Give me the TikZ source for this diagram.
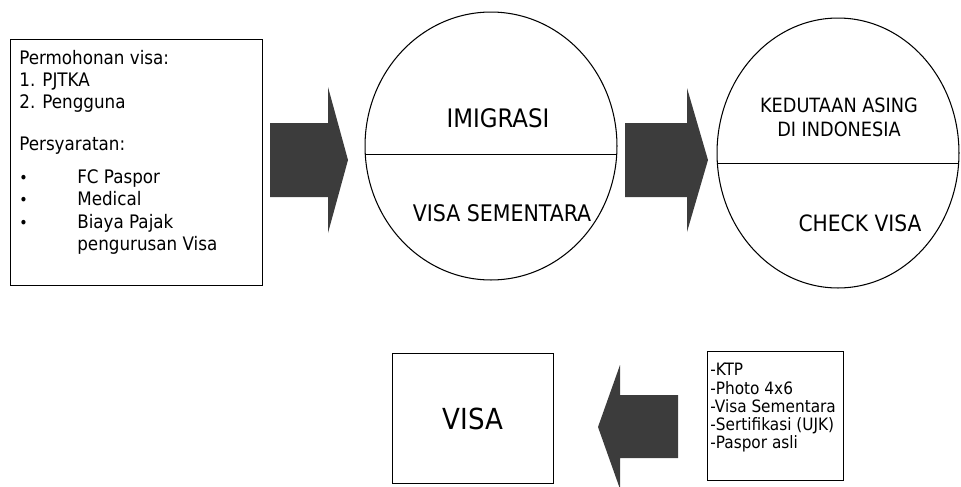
\documentclass[tikz,border=0pt]{standalone}
\usepackage{fontspec}
\setmainfont{DejaVu Sans Condensed}
\usepackage{tikz}
\usetikzlibrary{shapes.geometric, positioning}
\usepackage{xcolor}
\definecolor{arrowgray}{HTML}{3C3C3C}
\tikzstyle{infobox} = [%
  rectangle,
  draw=black,
  line width=0.6pt,
  inner sep=0pt,
  fill=none
]
\tikzstyle{oval} = [%
  ellipse,
  draw=black,
  line width=0.6pt,
  inner sep=0pt
]

\begin{document}
\begin{tikzpicture}[%
  x=0.02cm, y=-0.02cm,
  every node/.style={%
    font=\fontsize{10.6}{12.6}\selectfont,
    text=black
  },
  blockarrow/.style={fill=arrowgray, draw=none},
  caption/.style={font=\fontsize{13}{15}\selectfont, align=center}
]
  \useasboundingbox (0,0) rectangle (961,487);

  % Boxes
  \node[infobox, minimum width=5.04cm, minimum height=4.92cm, anchor=north west] (syaratbox) at (10,39) {};
  \node[anchor=north west, align=left, inner sep=0pt] (syarat) at (19,50) {%
    Permohonan visa:\\
    1. PJTKA\\
    2. Pengguna\\[11pt]
    Persyaratan:\\[6.5pt]
    \rlap{\small\textbullet}\hspace*{33pt}FC Paspor\\
    \rlap{\small\textbullet}\hspace*{33pt}Medical\\
    \rlap{\small\textbullet}\hspace*{33pt}Biaya Pajak\\
    \hspace*{33pt}pengurusan Visa};

  % Circles
  \node[oval, minimum width=5.04cm, minimum height=5.36cm] (imigrasi) at (491,146) {};
  \node[oval, minimum width=4.84cm, minimum height=5.40cm] (kedutaan) at (838,153) {};
  \draw[line width=0.6pt] (imigrasi.184.1) -- (imigrasi.-4.1);
  \draw[line width=0.6pt] (kedutaan.185.7) -- (kedutaan.-5.7);

  \node[caption, font=\fontsize{14.5}{17}\selectfont] (imig) at (498,118) {IMIGRASI};
  \node[caption] (sementara) at (502,213) {VISA SEMENTARA};
  \node[caption, font=\fontsize{11.2}{13.5}\selectfont] (asing) at (839,117) {KEDUTAAN ASING\\DI INDONESIA};
  \node[caption, font=\fontsize{12.8}{15}\selectfont] (check) at (860,223) {CHECK VISA};

  % Bottom row
  \node[infobox, minimum width=3.22cm, minimum height=2.60cm, anchor=north west] (visabox) at (392,353) {};
  \node[font=\fontsize{16.5}{20}\selectfont] (visa) at (visabox.center) {VISA};
  \node[infobox, minimum width=2.72cm, minimum height=2.58cm, anchor=north west] (dokumenbox) at (707,351) {};
  \node[anchor=north west, align=left, inner sep=0pt, font=\fontsize{9.7}{10.4}\selectfont] (dokumen) at (710,363) {%
    -KTP\\
    -Photo 4x6\\
    -Visa Sementara\\
    -Sertifikasi (UJK)\\
    -Paspor asli};

  % Block arrows
  \fill[blockarrow] (270,123) -- (328,123) -- (328,87) -- (348,160) -- (328,233) -- (328,197) -- (270,197) -- cycle;
  \fill[blockarrow] (625,123) -- (687,123) -- (687,88) -- (708,160) -- (687,232) -- (687,197) -- (625,197) -- cycle;
  \fill[blockarrow] (678,395) -- (620,395) -- (620,365) -- (598,427) -- (620,489) -- (620,458) -- (678,458) -- cycle;

\end{tikzpicture}
\end{document}
